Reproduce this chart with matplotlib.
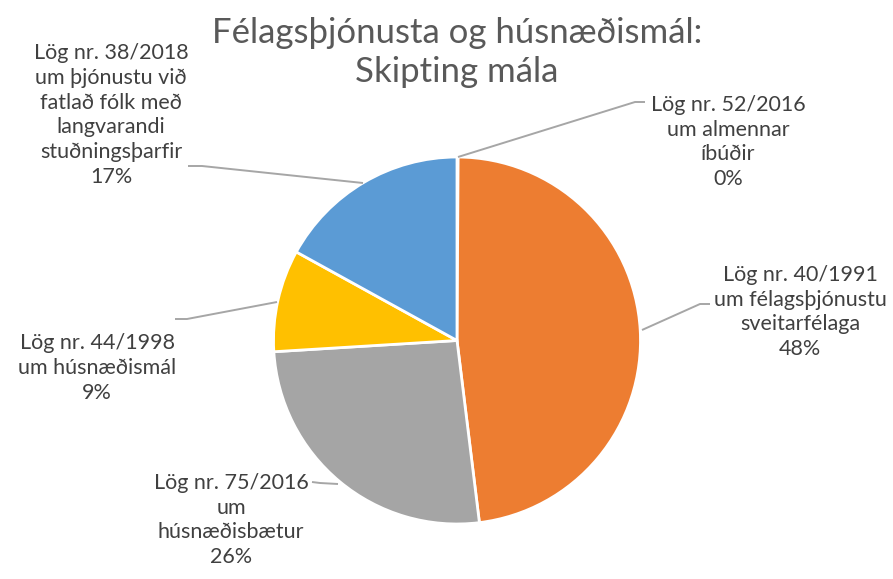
import matplotlib
matplotlib.use("Agg")
import matplotlib.pyplot as plt

plt.rcParams["font.family"] = ["Lato", "DejaVu Sans"]

# slice order: clockwise from 12 o'clock
labels = [
    "Lög nr. 52/2016\num almennar\níbúðir",
    "Lög nr. 40/1991\num félagsþjónustu\nsveitarfélaga",
    "Lög nr. 75/2016\num\nhúsnæðisbætur",
    "Lög nr. 44/1998\num húsnæðismál",
    "Lög nr. 38/2018\num þjónustu við\nfatlað fólk með\nlangvarandi\nstuðningsþarfir",
]
shares = [0.1, 48.0, 26.0, 9.0, 17.0]
colors = ["#4472C4", "#ED7D31", "#A5A5A5", "#FFC000", "#5B9BD5"]
title = "Félagsþjónusta og húsnæðismál:\nSkipting mála"

W, H = 893, 579
TEXT_COLOR = "#404040"
TITLE_COLOR = "#595959"
LEADER_COLOR = "#A6A6A6"

# label block centres and leader polylines, in pixel coords (y down)
label_pos = [(728, 142), (800, 312), (231, 520), (97, 368), (111, 115)]
leaders = [
    [(458, 157), (635, 102), (645, 102)],
    [(642, 330), (700, 304), (710, 304)],
    [(338, 484), (320, 483), (312, 482)],
    [(277, 302), (187, 319), (175, 319)],
    [(363, 183), (202, 166), (188, 166)],
]

fig = plt.figure(figsize=(W / 100, H / 100), dpi=100)
ax = fig.add_axes([0, 0, 1, 1])

ax.pie(
    shares, colors=colors, startangle=90, counterclock=False,
    center=(457, H - 340.5), radius=183.5,
    wedgeprops=dict(edgecolor="white", linewidth=2),
    frame=True,
)
ax.set_xlim(0, W)
ax.set_ylim(0, H)
ax.set_axis_off()

total = sum(shares)
for lab, val, (x, y), pts in zip(labels, shares, label_pos, leaders):
    ax.plot([p[0] for p in pts], [H - p[1] for p in pts],
            color=LEADER_COLOR, linewidth=1.4, solid_capstyle="butt", zorder=1)
    pct = round(100 * val / total)
    ax.text(x, H - y, f"{lab}\n{pct}%", ha="center", va="center",
            fontsize=15.5, color=TEXT_COLOR, linespacing=1.31)

ax.text(457, H - 52.5, title, ha="center", va="center",
        fontsize=25, color=TITLE_COLOR, linespacing=1.3)

fig.savefig("out.png", dpi=100, facecolor="white")
